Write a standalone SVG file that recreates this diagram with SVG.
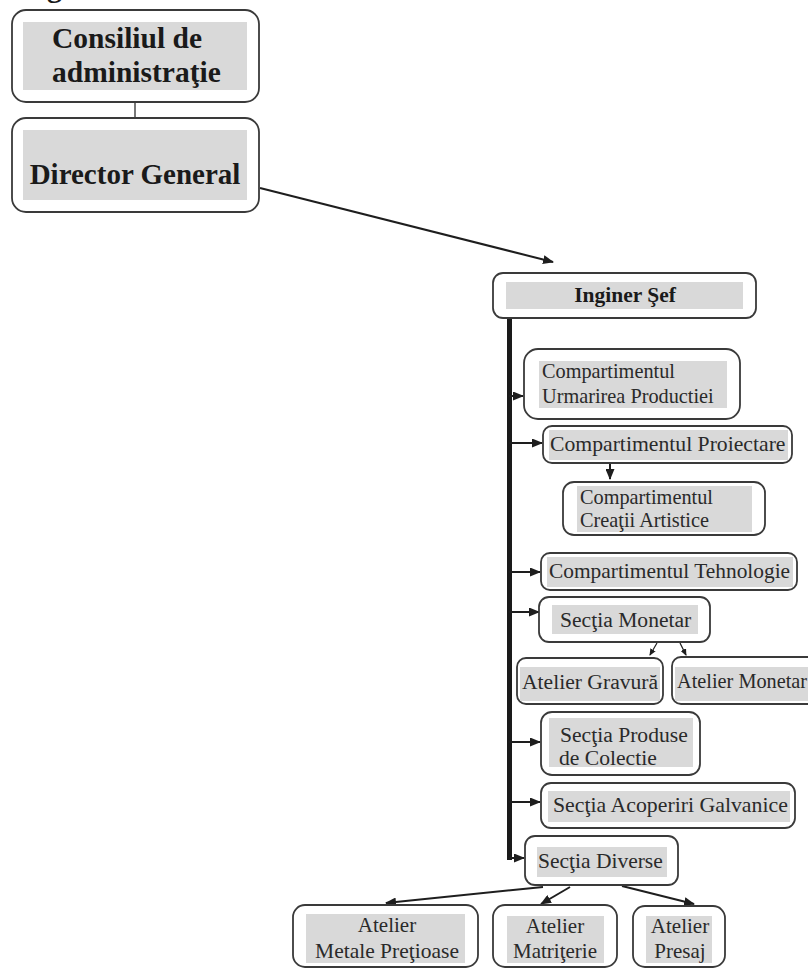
<svg xmlns="http://www.w3.org/2000/svg" width="808" height="970" viewBox="0 0 808 970">
<style>
.box{fill:#fff;stroke:#3a3a3a;stroke-width:1.8}
.sh{fill:#d9d9d9}
.b{font-family:'Liberation Serif','Times New Roman',Times,'DejaVu Serif',serif;font-weight:bold;fill:#1a1a1a}
.r{font-family:'Liberation Serif','Times New Roman',Times,'DejaVu Serif',serif;fill:#2a2a2a}
.ln{stroke:#1e1e1e;stroke-width:2;fill:none}
.lt{stroke:#1e1e1e;stroke-width:1.2;fill:none}
</style>
<defs>
<marker id="ah" markerUnits="userSpaceOnUse" markerWidth="11" markerHeight="9" refX="10" refY="4.5" orient="auto"><path d="M0,0 L11,4.5 L0,9 z" fill="#1e1e1e"/></marker>
<marker id="ahs" markerUnits="userSpaceOnUse" markerWidth="7" markerHeight="6" refX="6" refY="3" orient="auto"><path d="M0,0 L7,3 L0,6 z" fill="#1e1e1e"/></marker>
</defs>
<rect width="808" height="970" fill="#fff"/>
<text class="b" x="47" y="-3" font-size="30" font-family="Liberation Serif, serif">g</text>

<g id="connectors">
<line class="lt" x1="135" y1="102" x2="135" y2="118"/>
<line class="ln" x1="260" y1="188" x2="553" y2="262" marker-end="url(#ah)"/>
<line x1="509.5" y1="318" x2="509.5" y2="860" stroke="#1a1a1a" stroke-width="5"/>
<line class="ln" x1="509" y1="396" x2="523" y2="396" marker-end="url(#ah)"/>
<line class="ln" x1="509" y1="443" x2="542" y2="443" marker-end="url(#ah)"/>
<line class="ln" x1="610" y1="463" x2="610" y2="479" marker-end="url(#ah)"/>
<line class="ln" x1="509" y1="572" x2="540" y2="572" marker-end="url(#ah)"/>
<line class="ln" x1="509" y1="612" x2="539" y2="612" marker-end="url(#ah)"/>
<line class="lt" x1="657" y1="643" x2="650" y2="655" marker-end="url(#ahs)"/>
<line class="lt" x1="680" y1="643" x2="686" y2="655" marker-end="url(#ahs)"/>
<line class="ln" x1="509" y1="742" x2="540" y2="742" marker-end="url(#ah)"/>
<line class="ln" x1="509" y1="802" x2="540" y2="802" marker-end="url(#ah)"/>
<line class="ln" x1="509" y1="858" x2="524" y2="858" marker-end="url(#ah)"/>
<line class="ln" x1="543" y1="887" x2="386" y2="903" marker-end="url(#ah)"/>
<line class="ln" x1="570" y1="887" x2="541" y2="904" marker-end="url(#ah)"/>
<line class="ln" x1="622" y1="886" x2="694" y2="904" marker-end="url(#ah)"/>
</g>

<g id="consiliul">
<rect class="box" x="12" y="10" width="247" height="92" rx="14"/>
<rect class="sh" x="23" y="22" width="224" height="68"/>
<text class="b" x="52" y="48" font-size="29.5">Consiliul de</text>
<text class="b" x="52" y="82" font-size="29.5">administraţie</text>
</g>

<g id="director">
<rect class="box" x="12" y="118" width="247" height="94" rx="14"/>
<rect class="sh" x="23" y="130" width="224" height="70"/>
<text class="b" x="135" y="184" font-size="29" text-anchor="middle">Director General</text>
</g>

<g id="inginer">
<rect class="box" x="493" y="273" width="263" height="45" rx="10"/>
<rect class="sh" x="506" y="282" width="237" height="27"/>
<text class="b" x="625" y="302" font-size="21.5" text-anchor="middle">Inginer Şef</text>
</g>

<g id="urmarirea">
<rect class="box" x="524" y="349" width="216" height="70" rx="14"/>
<rect class="sh" x="539" y="361" width="188" height="47"/>
<text class="r" x="542" y="378" font-size="20.3">Compartimentul</text>
<text class="r" x="542" y="403" font-size="20.3">Urmarirea Productiei</text>
</g>

<g id="proiectare">
<rect class="box" x="543" y="426" width="249" height="37" rx="9"/>
<rect class="sh" x="549" y="430" width="239" height="30"/>
<text class="r" x="550" y="451" font-size="21.7">Compartimentul Proiectare</text>
</g>

<g id="creatii">
<rect class="box" x="563" y="482" width="202" height="53" rx="11"/>
<rect class="sh" x="577" y="486" width="175" height="46"/>
<text class="r" x="580" y="504" font-size="20.3">Compartimentul</text>
<text class="r" x="580" y="527" font-size="20.3">Creaţii Artistice</text>
</g>

<g id="tehnologie">
<rect class="box" x="541" y="553" width="256" height="37" rx="9"/>
<rect class="sh" x="547" y="557" width="246" height="30"/>
<text class="r" x="549" y="578" font-size="21.4">Compartimentul Tehnologie</text>
</g>

<g id="sectia-monetar">
<rect class="box" x="539" y="597" width="171" height="45" rx="10"/>
<rect class="sh" x="552" y="605" width="146" height="29"/>
<text class="r" x="560" y="627" font-size="21.6">Secţia Monetar</text>
</g>

<g id="atelier-gravura">
<rect class="box" x="517" y="658" width="146" height="46" rx="9"/>
<rect class="sh" x="520" y="667" width="140" height="34"/>
<text class="r" x="522" y="689" font-size="21.6">Atelier Gravură</text>
</g>

<g id="atelier-monetar">
<rect class="box" x="672" y="657" width="160" height="47" rx="9"/>
<rect class="sh" x="675" y="667" width="140" height="34"/>
<text class="r" x="677" y="688" font-size="20.3">Atelier Monetar</text>
</g>

<g id="produse">
<rect class="box" x="541" y="712" width="159" height="63" rx="11"/>
<rect class="sh" x="549" y="718" width="144" height="49"/>
<text class="r" x="560" y="742" font-size="21.6">Secţia Produse</text>
<text class="r" x="559" y="765" font-size="21.6">de Colectie</text>
</g>

<g id="galvanice">
<rect class="box" x="541" y="783" width="254" height="45" rx="10"/>
<rect class="sh" x="548" y="791" width="242" height="31"/>
<text class="r" x="553" y="812" font-size="21.8">Secţia Acoperiri Galvanice</text>
</g>

<g id="diverse">
<rect class="box" x="525" y="836" width="153" height="49" rx="10"/>
<rect class="sh" x="537" y="847" width="130" height="30"/>
<text class="r" x="538" y="868" font-size="21.5">Secţia Diverse</text>
</g>

<g id="metale">
<rect class="box" x="293" y="905" width="185" height="62" rx="12"/>
<rect class="sh" x="306" y="914" width="159" height="49"/>
<text class="r" x="387" y="932" font-size="21" text-anchor="middle">Atelier</text>
<text class="r" x="387" y="958" font-size="21.5" text-anchor="middle">Metale Preţioase</text>
</g>

<g id="matriterie">
<rect class="box" x="493" y="905" width="124" height="62" rx="12"/>
<rect class="sh" x="507" y="916" width="97" height="47"/>
<text class="r" x="555" y="933" font-size="21" text-anchor="middle">Atelier</text>
<text class="r" x="555" y="958" font-size="21" text-anchor="middle">Matriţerie</text>
</g>

<g id="presaj">
<rect class="box" x="633" y="906" width="92" height="61" rx="12"/>
<rect class="sh" x="646" y="916" width="66" height="47"/>
<text class="r" x="680" y="933" font-size="21" text-anchor="middle">Atelier</text>
<text class="r" x="680" y="958" font-size="21" text-anchor="middle">Presaj</text>
</g>
</svg>
